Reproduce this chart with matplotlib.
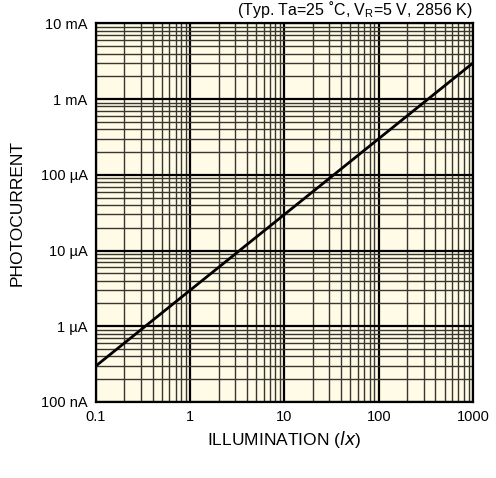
"""Photocurrent vs illumination, log-log datasheet style."""

import matplotlib

matplotlib.use("Agg")
import matplotlib.pyplot as plt
from matplotlib.ticker import LogLocator, NullFormatter, FixedLocator
import numpy as np

plt.rcParams["font.family"] = ["Liberation Sans", "DejaVu Sans"]

# data
illum_lx = [0.1, 1, 10, 100, 1000]
photocurrent_a = [0.3e-6, 3e-6, 30e-6, 300e-6, 3e-3]

x_ticks = [0.1, 1, 10, 100, 1000]
x_labels = ["0.1", "1", "10", "100", "1000"]
y_ticks = [1e-7, 1e-6, 1e-5, 1e-4, 1e-3, 1e-2]
y_labels = ["100 nA", "1 µA", "10 µA", "100 µA", "1 mA", "10 mA"]

fig = plt.figure(figsize=(4.96, 4.78), dpi=100)
ax = fig.add_axes([0.1935, 0.159, 0.760, 0.792])
ax.set_facecolor("#fffbe6")

ax.set_xscale("log")
ax.set_yscale("log")
ax.set_xlim(0.1, 1000)
ax.set_ylim(1e-7, 1e-2)

ax.xaxis.set_major_locator(FixedLocator(x_ticks))
ax.set_xticklabels(x_labels)
ax.yaxis.set_major_locator(FixedLocator(y_ticks))
ax.set_yticklabels(y_labels)
ax.xaxis.set_minor_locator(LogLocator(base=10, subs=np.arange(2, 10)))
ax.yaxis.set_minor_locator(LogLocator(base=10, subs=np.arange(2, 10)))
ax.xaxis.set_minor_formatter(NullFormatter())
ax.yaxis.set_minor_formatter(NullFormatter())

ax.grid(which="minor", color="#383630", linewidth=1.0)
ax.grid(which="major", color="black", linewidth=1.6)
ax.set_axisbelow(True)
ax.tick_params(which="both", length=0, labelsize=10.5, pad=6)

ax.plot(illum_lx, photocurrent_a, color="black", linewidth=2.0)

for s in ax.spines.values():
    s.set_linewidth(1.6)

fig.text(473 / 496, 1 - 10 / 478,
         "(Typ. Ta=25 ˚C, V$_{\\mathregular{R}}$=5 V, 2856 K)",
         ha="right", va="center", fontsize=11.5)
fig.text(17 / 496, 1 - 213 / 478, "PHOTOCURRENT", rotation=90,
         ha="center", va="center", fontsize=12.5)
fig.text(284.5 / 496, 1 - 440 / 478, "ILLUMINATION ($\\it{lx}$)",
         ha="center", va="center", fontsize=12.5)

fig.savefig("out.png", dpi=100)
plt.close(fig)
